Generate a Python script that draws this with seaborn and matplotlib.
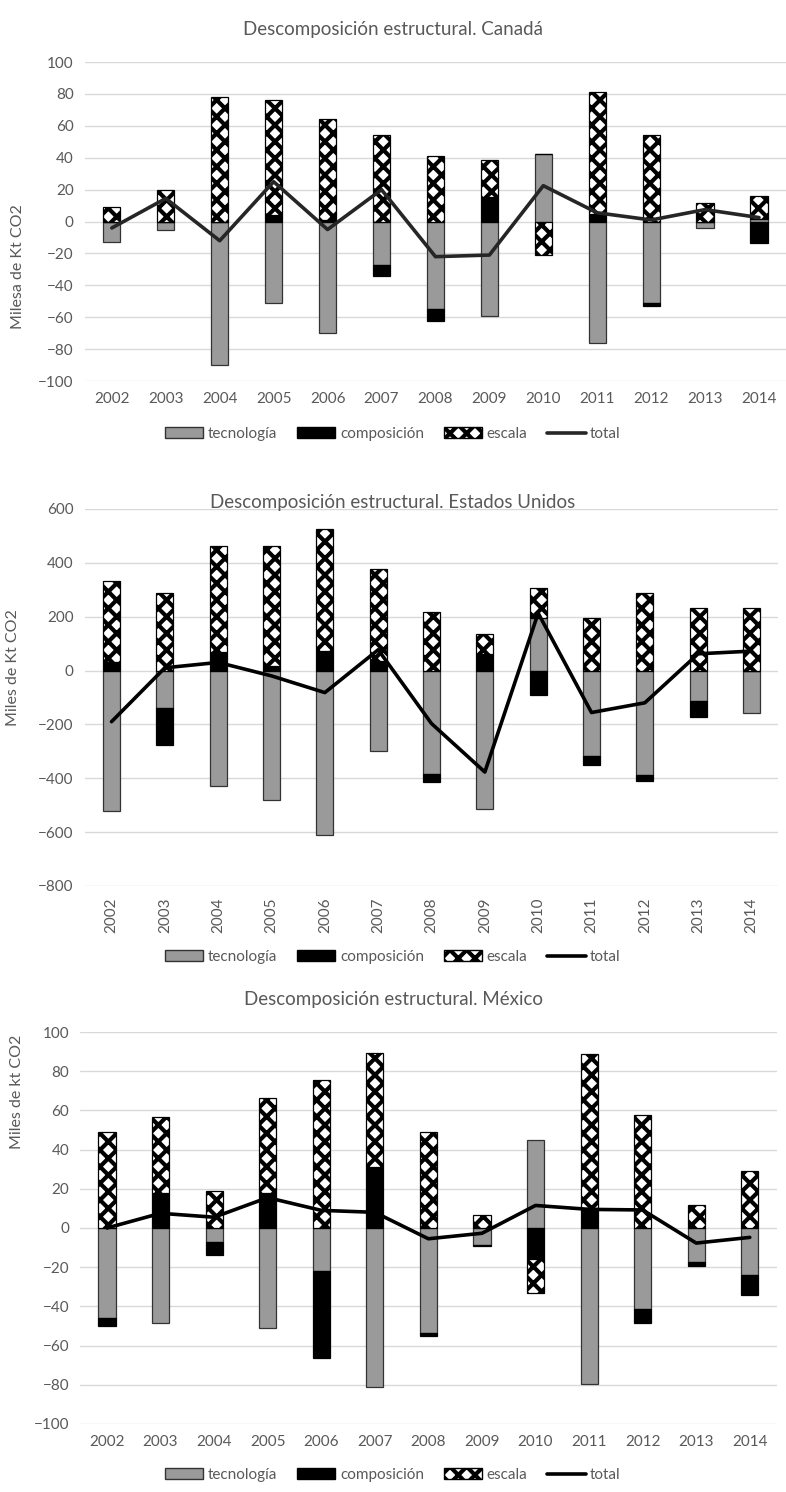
import numpy as np
import seaborn as sns
import matplotlib.pyplot as plt
from matplotlib.patches import Patch
from matplotlib.lines import Line2D

# Años
anios = [str(a) for a in range(2002, 2015)]

# Canadá (miles de Kt CO2)
can_tec = [-13, -5, -90, -51, -70, -27, -55, -59, 42.5, -76, -51, -4, 1.5]
can_com = [0, 0, 0, 4, 1, -7, -7.5, 15.5, 0, 5, -2, 0, -13.5]
can_esc = [9, 19.5, 78, 72, 63.5, 54, 41, 23, -21, 76.5, 54, 11.5, 14.5]
can_tot = [-4, 14.5, -12, 25, -5, 20, -22, -21, 22.5, 5.5, 1, 7.5, 2.5]

# Estados Unidos
usa_tec = [-520, -140, -430, -479, -609, -300, -383, -513, 194, -319, -389, -112, -158]
usa_com = [30, -135, 70, 17, 74, 36, -32, 62, -90, -32, -20, -59, 0]
usa_esc = [301, 287, 391, 444, 451, 340, 219, 74, 111, 196, 287, 232, 232]
usa_tot = [-190, 10, 30, -20, -82, 77, -197, -377, 213, -156, -120, 62, 72]

# México
mex_tec = [-46, -48.3, -6.9, -50.8, -21.9, -81.3, -53.4, -8.6, 44.7, -79.7, -41.4, -17.1, -23.9]
mex_com = [-3.8, 17.8, -7, 17.8, -44.6, 30.9, -1.5, -0.8, -15.9, 10.1, -7.2, -2.2, -10.2]
mex_esc = [49, 38.6, 19.1, 48.7, 75.3, 58.5, 49, 6.6, -17.4, 78.8, 57.8, 11.5, 29.2]
mex_tot = [0, 7.5, 5.5, 15.5, 9, 8, -5.5, -2.7, 11.5, 9.5, 9.2, -7.7, -4.8]

sns.set_style('white')
plt.rcParams['font.family'] = ['Lato', 'DejaVu Sans']
plt.rcParams['hatch.linewidth'] = 3.0
gris = '#595959'

estilos = {
    'tecnología': dict(color='#9a9a9a', edgecolor='#333333', hatch=''),
    'composición': dict(color='black', edgecolor='black', hatch=''),
    'escala': dict(color='white', edgecolor='black', hatch='xx'),
}


def panel(rect, tec, com, esc, tot, titulo, ylim, paso, rot, title_y, ylab, ylab_xy, leg_y,
          color_total='black'):
    ax = fig.add_axes(rect)
    pos = np.zeros(len(anios))
    neg = np.zeros(len(anios))
    for nombre, serie in [('tecnología', tec), ('composición', com), ('escala', esc)]:
        v = np.array(serie, dtype=float)
        base = np.where(v >= 0, pos, neg)
        sns.barplot(x=anios, y=v, bottom=base, width=0.32, saturation=1,
                    errorbar=None, linewidth=0.9, ax=ax, **estilos[nombre])
        pos = pos + np.clip(v, 0, None)
        neg = neg + np.clip(v, None, 0)
    sns.lineplot(x=np.arange(len(anios)), y=tot, color=color_total, linewidth=2.6, ax=ax)
    ax.set_xlim(-0.5, len(anios) - 0.5)
    ax.set_ylim(*ylim)
    ax.set_yticks(np.arange(ylim[0], ylim[1] + 1, paso))
    ax.yaxis.grid(True, color='#d9d9d9', linewidth=1)
    ax.set_axisbelow(True)
    sns.despine(ax=ax, left=True, bottom=True)
    ax.tick_params(axis='both', length=0, labelsize=11, colors=gris, pad=8)
    ax.set_xticks(range(len(anios)))
    ax.set_xticklabels(anios, rotation=rot)
    ax.set_xlabel('')
    ax.set_ylabel('')
    fig.text(0.5, title_y, titulo, ha='center', va='center', fontsize=13.5, color=gris)
    fig.text(ylab_xy[0], ylab_xy[1], ylab, rotation=90, ha='center', va='center',
             fontsize=11.5, color=gris)
    handles = [Patch(facecolor=estilos[k]['color'], edgecolor=estilos[k]['edgecolor'],
                     hatch=estilos[k]['hatch'], label=k) for k in estilos]
    handles.append(Line2D([0], [0], color=color_total, linewidth=2.6, label='total'))
    fig.legend(handles=handles, loc='center', bbox_to_anchor=(0.5, leg_y), ncol=4,
               frameon=False, fontsize=11, labelcolor=gris, handlelength=2.5,
               handleheight=0.7, handletextpad=0.3, columnspacing=1.3)
    return ax


fig = plt.figure(figsize=(7.86, 14.92), dpi=100)

panel([0.108, 0.7446, 0.892, 0.2138], can_tec, can_com, can_esc, can_tot,
      'Descomposición estructural. Canadá', (-100, 100), 20, 0,
      1 - 30 / 1492, 'Milesa de Kt CO2', (0.023, 1 - 267 / 1492), 1 - 434 / 1492,
      color_total='#262626')

panel([0.108, 0.4062, 0.882, 0.2527], usa_tec, usa_com, usa_esc, usa_tot,
      'Descomposición estructural. Estados Unidos', (-800, 600), 200, 90,
      1 - 503 / 1492, 'Miles de Kt CO2', (0.016, 1 - 668 / 1492), 1 - 957 / 1492)

panel([0.102, 0.0456, 0.886, 0.2627], mex_tec, mex_com, mex_esc, mex_tot,
      'Descomposición estructural. México', (-100, 100), 20, 0,
      1 - 1000 / 1492, 'Miles de kt CO2', (0.022, 1 - 1092 / 1492), 1 - 1475 / 1492)

fig.savefig('out.png', dpi=100)
